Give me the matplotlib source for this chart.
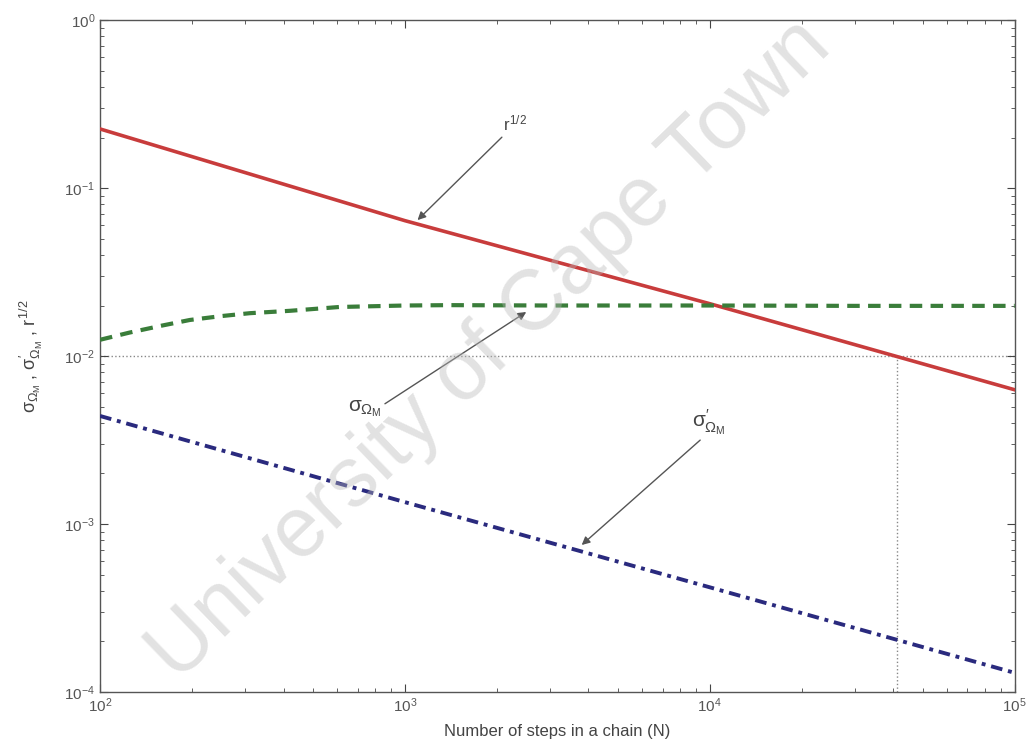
import matplotlib
matplotlib.use('Agg')
import matplotlib.pyplot as plt

plt.rcParams['font.family'] = ['Liberation Sans', 'DejaVu Sans']
plt.rcParams['mathtext.fontset'] = 'custom'
plt.rcParams['mathtext.rm'] = 'Liberation Sans'
plt.rcParams['mathtext.it'] = 'Liberation Sans'

# r^(1/2) curve
n_red = [1e2, 1e3, 1e4, 1e5]
r_half = [0.225, 0.064, 0.0205, 0.0063]

# sigma_Omega_M (green dashed)
n_green = [100, 125, 160, 197, 250, 310, 420, 610, 1000, 1400, 3000, 1e4, 3e4, 1e5]
sigma_om = [0.0125, 0.0138, 0.0152, 0.0164, 0.0173, 0.018, 0.0186, 0.0196, 0.0200,
            0.0201, 0.0200, 0.0200, 0.0199, 0.0199]

# sigma'_Omega_M (blue dash-dot)
n_blue = [1e2, 1e3, 1e4, 1e5]
sigma_om_p = [0.0044, 0.00135, 0.00042, 0.00013]

# reference lines
n_ref = 4.1e4
y_ref = 0.01

fig = plt.figure(figsize=(10.27, 7.46), dpi=100)
ax = fig.add_axes([0.0974, 0.0724, 0.8906, 0.9006])

ax.axhline(y_ref, color='#888888', linestyle=':', linewidth=1.0, zorder=1)
ax.plot([n_ref, n_ref], [1e-4, y_ref], color='#888888', linestyle=':', linewidth=1.0, zorder=1)

ax.plot(n_red, r_half, color='#c83c3c', linewidth=2.6, zorder=3)
ax.plot(n_green, sigma_om, color='#3a7d3a', linestyle=(0, (3, 2)), linewidth=3.0, zorder=3)
ax.plot(n_blue, sigma_om_p, color='#2a2a7e', linestyle=(0, (3, 1.5, 1, 1.5)), linewidth=2.8, zorder=3)

ax.set_xscale('log')
ax.set_yscale('log')
ax.set_xlim(1e2, 1e5)
ax.set_ylim(1e-4, 1e0)

arrow = dict(arrowstyle='-|>', color='#555555', lw=1.0, mutation_scale=12, shrinkA=0, shrinkB=0)
ax.annotate('', xy=(1.1e3, 0.0645), xytext=(2.08e3, 0.201), arrowprops=arrow)
ax.text(2.09e3, 0.213, r'$r^{1/2}$', fontsize=12, color='#444444', ha='left', va='bottom')
ax.annotate('', xy=(2.5e3, 0.0183), xytext=(8.6e2, 0.0052), arrowprops=arrow)
ax.text(6.5e2, 0.0056, r'$\sigma_{\Omega_M}$', fontsize=15, color='#444444', ha='left', va='top')
ax.annotate('', xy=(3.8e3, 7.5e-4), xytext=(9.3e3, 0.00316), arrowprops=arrow)
ax.text(8.75e3, 0.0033, r"$\sigma^{\prime}_{\Omega_M}$", fontsize=15, color='#444444', ha='left', va='bottom')

ax.set_xlabel('Number of steps in a chain (N)', fontsize=12, color='#444444', labelpad=6)
ax.set_ylabel(r"$\sigma_{\Omega_M}$ , $\sigma^{\prime}_{\Omega_M}$ , $r^{1/2}$",
              fontsize=13, color='#444444', labelpad=14)

ax.tick_params(which='both', direction='in', top=True, right=True, colors='#444444',
               labelsize=11, labelcolor='#555555')
ax.tick_params(which='major', length=6)
ax.tick_params(which='minor', length=3)
for s in ax.spines.values():
    s.set_color('#555555')
    s.set_linewidth(1.0)

fig.text(0.477, 0.53, 'University of Cape Town', fontsize=61, rotation=44,
         color='0.72', alpha=0.4, ha='center', va='center', zorder=10)

fig.savefig('out.png', dpi=100)
